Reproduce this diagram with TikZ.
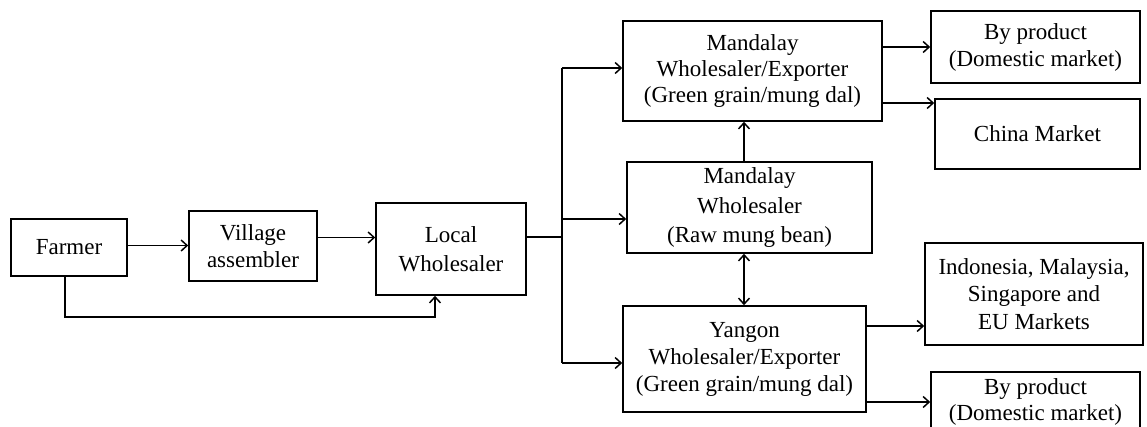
\documentclass[tikz,border=0pt]{standalone}
\usepackage{fontspec}
\setmainfont{Liberation Serif}
\usetikzlibrary{arrows.meta}
\tikzset{
  box/.style={draw, line width=1.6pt, inner sep=0pt, align=center,
    font=\fontsize{23}{27}\selectfont},
  tip/.tip={Straight Barb[length=6pt,width=11pt,line width=1.5pt]},
  arr/.style={line width=1.5pt, -tip},
  dblarr/.style={line width=1.5pt, tip-tip},
  ln/.style={line width=1.5pt}
}
\begin{document}
\begin{tikzpicture}[x=1pt,y=-1pt]
\useasboundingbox (0,0) rectangle (1147,426);
\clip (0,0) rectangle (1147,426);
\node[box, minimum width=116pt, minimum height=57pt] (farmer) at (69,247.5) {Farmer};
\node[box, minimum width=128pt, minimum height=70pt] (village) at (253,246) {Village\\assembler};
\node[box, minimum width=150pt, minimum height=92pt, font=\fontsize{23}{29}\selectfont] (local) at (451,249) {Local\\Wholesaler};
\node[box, minimum width=259pt, minimum height=100pt, font=\fontsize{23}{26}\selectfont] (mwe) at (752.5,71) {Mandalay\\Wholesaler/Exporter\\(Green grain/mung dal)};
\node[box, minimum width=245pt, minimum height=91pt, font=\fontsize{23}{29.5}\selectfont] (mw) at (749.5,207.5) {Mandalay\\Wholesaler\\(Raw mung bean)};
\node[box, minimum width=243pt, minimum height=106pt] (yangon) at (744.5,359) {Yangon\\Wholesaler/Exporter\\(Green grain/mung dal)};
\node[box, minimum width=209pt, minimum height=72pt] (bp1) at (1035.5,47) {By product\\(Domestic market)};
\node[box, minimum width=205pt, minimum height=70pt] (china) at (1037.5,134) {China Market};
\node[box, minimum width=218pt, minimum height=102pt, font=\fontsize{23}{27.5}\selectfont] (indo) at (1034,294) {Indonesia, Malaysia,\\Singapore and\\EU Markets};
\node[box, minimum width=209pt, minimum height=59pt, font=\fontsize{23}{26}\selectfont] (bp2) at (1035.5,401.5) {By product\\(Domestic market)};

% left chain
\draw[arr] (farmer.east |- 0,245.5) -- (village.west |- 0,245.5);
\draw[arr] (village.east |- 0,237.5) -- (local.west |- 0,237.5);
\coordinate (fdown) at (65,317);
\coordinate (lup) at (435,317);
\draw[arr] (farmer.south -| fdown) -- (fdown) -- (lup) -- (local.south -| lup);

% trunk
\coordinate (tTop) at (562,68);
\coordinate (tMid) at (562,219);
\coordinate (tJoin) at (562,237);
\coordinate (tBot) at (562,363);
\draw[ln] (local.east |- tJoin) -- (tJoin);
\draw[ln] (tTop) -- (tBot);
\draw[arr] (tTop) -- (mwe.west |- tTop);
\draw[arr] (tMid) -- (mw.west |- tMid);
\draw[arr] (tBot) -- (yangon.west |- tBot);

% vertical links
\draw[arr] (mw.north -| 744,0) -- (mwe.south -| 744,0);
\draw[dblarr] (mw.south -| 744,0) -- (yangon.north -| 744,0);

% outputs
\draw[arr] (mwe.east |- 0,47) -- (bp1.west |- 0,47);
\draw[arr] (mwe.east |- 0,103) -- (china.west |- 0,103);
\draw[arr] (yangon.east |- 0,326) -- (indo.west |- 0,326);
\draw[arr] (yangon.east |- 0,402) -- (bp2.west |- 0,402);
\end{tikzpicture}
\end{document}
